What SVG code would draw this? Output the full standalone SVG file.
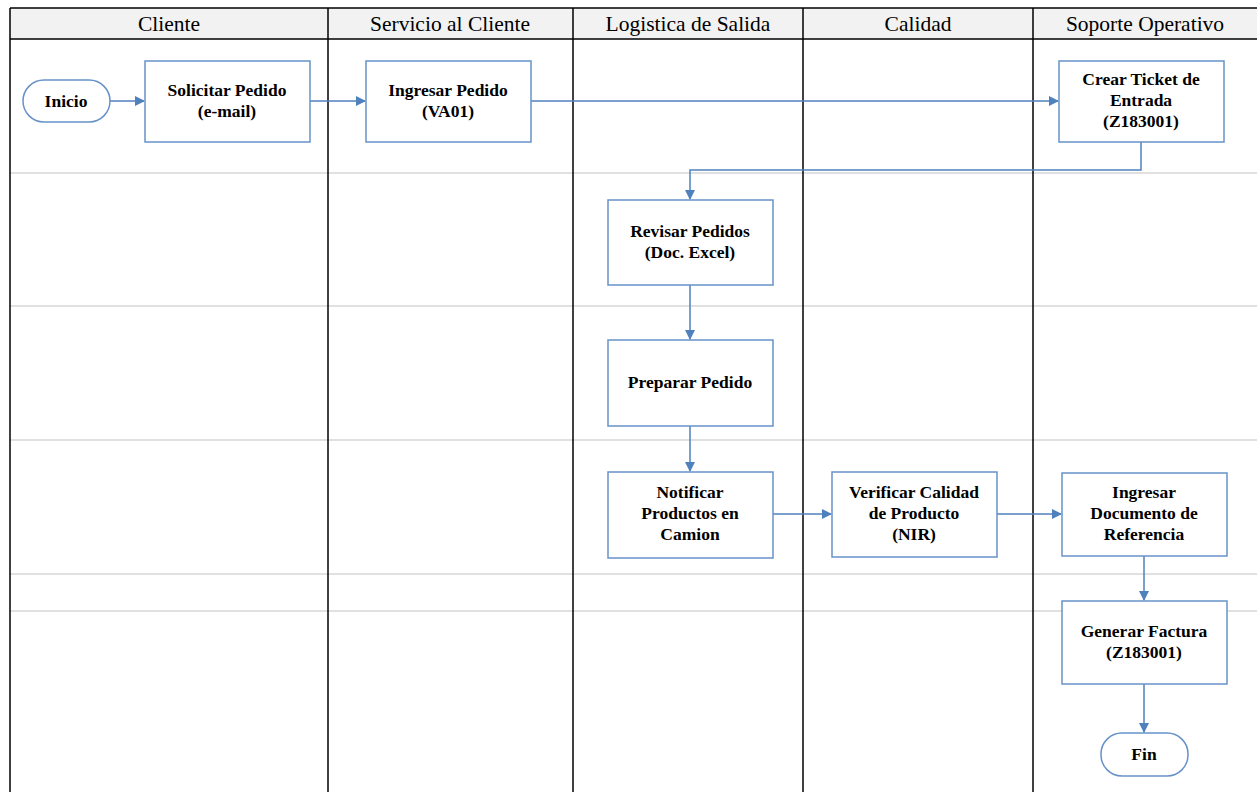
<svg xmlns="http://www.w3.org/2000/svg" width="1257" height="792" viewBox="0 0 1257 792">
<style>
.hdr{font-family:"Liberation Serif","Times New Roman",serif;font-size:21.5px;fill:#000;text-anchor:middle}
.lbl{font-family:"Liberation Serif","Times New Roman",serif;font-size:17.5px;font-weight:bold;fill:#000;text-anchor:middle}
.box{fill:#fff;stroke:#6792c8;stroke-width:1.5}
.sep{stroke:#d6d6d6;stroke-width:1.5}
.col{stroke:#000;stroke-width:1.5}
.con{fill:none;stroke:#4f81bd;stroke-width:1.5}
</style>
<defs>
<marker id="arr" markerWidth="10" markerHeight="10" refX="9" refY="5" orient="auto" markerUnits="userSpaceOnUse">
<path d="M0,0 L10,5 L0,10 z" fill="#4f81bd"/>
</marker>
</defs>
<rect x="0" y="0" width="1257" height="792" fill="#fff"/>
<g id="lanes">
<rect x="10" y="8" width="1247" height="31" fill="#f2f2f2"/>
<line class="sep" x1="10" y1="173" x2="1257" y2="173"/>
<line class="sep" x1="10" y1="306" x2="1257" y2="306"/>
<line class="sep" x1="10" y1="440" x2="1257" y2="440"/>
<line class="sep" x1="10" y1="574" x2="1257" y2="574"/>
<line class="sep" x1="10" y1="611" x2="1257" y2="611"/>
<line class="col" x1="10" y1="8" x2="1257" y2="8"/>
<line class="col" x1="10" y1="39" x2="1257" y2="39"/>
<line class="col" x1="10" y1="8" x2="10" y2="792"/>
<line class="col" x1="328" y1="8" x2="328" y2="792"/>
<line class="col" x1="573" y1="8" x2="573" y2="792"/>
<line class="col" x1="803" y1="8" x2="803" y2="792"/>
<line class="col" x1="1033" y1="8" x2="1033" y2="792"/>
<text class="hdr" x="169" y="31">Cliente</text>
<text class="hdr" x="450" y="31">Servicio al Cliente</text>
<text class="hdr" x="688" y="31">Logistica de Salida</text>
<text class="hdr" x="918" y="31">Calidad</text>
<text class="hdr" x="1145" y="31">Soporte Operativo</text>
</g>
<g id="connectors">
<line class="con" x1="110" y1="101" x2="144" y2="101" marker-end="url(#arr)"/>
<line class="con" x1="310" y1="101" x2="365" y2="101" marker-end="url(#arr)"/>
<line class="con" x1="531" y1="101" x2="1058" y2="101" marker-end="url(#arr)"/>
<polyline class="con" points="1141,142 1141,170 690,170 690,199" marker-end="url(#arr)"/>
<line class="con" x1="690" y1="285" x2="690" y2="339" marker-end="url(#arr)"/>
<line class="con" x1="690" y1="426" x2="690" y2="471" marker-end="url(#arr)"/>
<line class="con" x1="773" y1="514" x2="831" y2="514" marker-end="url(#arr)"/>
<line class="con" x1="997" y1="514" x2="1061" y2="514" marker-end="url(#arr)"/>
<line class="con" x1="1144" y1="556" x2="1144" y2="600" marker-end="url(#arr)"/>
<line class="con" x1="1144" y1="684" x2="1144" y2="732" marker-end="url(#arr)"/>
</g>
<g id="inicio">
<rect class="box" x="23" y="80" width="87" height="42" rx="21"/>
<text class="lbl" x="66" y="107">Inicio</text>
</g>
<g id="solicitar">
<rect class="box" x="145" y="61" width="165" height="81"/>
<text class="lbl" x="227" y="96">Solicitar Pedido</text>
<text class="lbl" x="227" y="117">(e-mail)</text>
</g>
<g id="ingresar">
<rect class="box" x="366" y="61" width="165" height="81"/>
<text class="lbl" x="448" y="96">Ingresar Pedido</text>
<text class="lbl" x="448" y="117">(VA01)</text>
</g>
<g id="crear">
<rect class="box" x="1059" y="61" width="165" height="81"/>
<text class="lbl" x="1141" y="85">Crear Ticket de</text>
<text class="lbl" x="1141" y="106">Entrada</text>
<text class="lbl" x="1141" y="127">(Z183001)</text>
</g>
<g id="revisar">
<rect class="box" x="608" y="200" width="165" height="85"/>
<text class="lbl" x="690" y="237">Revisar Pedidos</text>
<text class="lbl" x="690" y="258">(Doc. Excel)</text>
</g>
<g id="preparar">
<rect class="box" x="608" y="340" width="165" height="86"/>
<text class="lbl" x="690" y="388">Preparar Pedido</text>
</g>
<g id="notificar">
<rect class="box" x="608" y="472" width="165" height="86"/>
<text class="lbl" x="690" y="498">Notificar</text>
<text class="lbl" x="690" y="519">Productos en</text>
<text class="lbl" x="690" y="540">Camion</text>
</g>
<g id="verificar">
<rect class="box" x="832" y="472" width="165" height="85"/>
<text class="lbl" x="914" y="498">Verificar Calidad</text>
<text class="lbl" x="914" y="519">de Producto</text>
<text class="lbl" x="914" y="540">(NIR)</text>
</g>
<g id="ingresardoc">
<rect class="box" x="1062" y="473" width="165" height="83"/>
<text class="lbl" x="1144" y="498">Ingresar</text>
<text class="lbl" x="1144" y="519">Documento de</text>
<text class="lbl" x="1144" y="540">Referencia</text>
</g>
<g id="generar">
<rect class="box" x="1062" y="601" width="165" height="83"/>
<text class="lbl" x="1144" y="637">Generar Factura</text>
<text class="lbl" x="1144" y="658">(Z183001)</text>
</g>
<g id="fin">
<rect class="box" x="1101" y="733" width="87" height="43" rx="21"/>
<text class="lbl" x="1144" y="760">Fin</text>
</g>
</svg>
